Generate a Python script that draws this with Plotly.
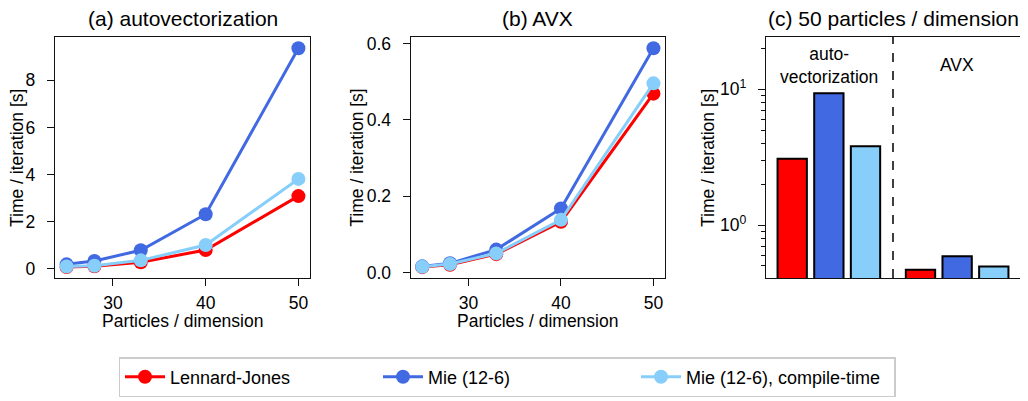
import plotly.graph_objects as go

# ---------------- data ----------------
particles = [25, 28, 33, 40, 50]

series_names = ["Lennard-Jones", "Mie (12-6)", "Mie (12-6), compile-time"]
series_colors = ["#ff0000", "#4169e1", "#87cefa"]

auto_lj = [0.07, 0.10, 0.27, 0.79, 3.08]
auto_mie = [0.18, 0.32, 0.78, 2.31, 9.36]
auto_mie_ct = [0.09, 0.12, 0.35, 1.00, 3.81]

avx_lj = [0.014, 0.020, 0.048, 0.133, 0.469]
avx_mie = [0.016, 0.024, 0.060, 0.168, 0.588]
avx_mie_ct = [0.015, 0.022, 0.050, 0.138, 0.496]

auto_series = [auto_lj, auto_mie, auto_mie_ct]
avx_series = [avx_lj, avx_mie, avx_mie_ct]

group_labels = ["auto-<br>vectorization", "AVX"]
panel_titles = ["(a) autovectorization", "(b) AVX", "(c) 50 particles / dimension"]
x_title = "Particles / dimension"
y_title = "Time / iteration [s]"

# ---------------- layout helpers ----------------
# the page body has an 8 px margin, so the figure is drawn 8 px in from the corner
OFF = 8
W, H = 1028 - OFF, 401 - OFF
FONT = "Liberation Sans, Arial, sans-serif"
FS = 17.5


def px_x(p):
    return (p - OFF) / W


def px_y(p):
    return 1 - (p - OFF) / H


ydom = [px_y(278), px_y(37)]
xdoms = [[px_x(55), px_x(310)], [px_x(410.7), px_x(665)], [px_x(766), px_x(1020)]]

fig = go.Figure()

# line panels
for pi, data in enumerate([auto_series, avx_series]):
    xa = "x" if pi == 0 else "x2"
    ya = "y" if pi == 0 else "y2"
    for si, vals in enumerate(data):
        fig.add_trace(go.Scatter(
            x=particles, y=vals, mode="lines+markers",
            name=series_names[si],
            line=dict(color=series_colors[si], width=3),
            marker=dict(color=series_colors[si], size=14),
            xaxis=xa, yaxis=ya,
            showlegend=(pi == 0),
        ))

# bar panel: value at 50 particles / dimension
group_offsets = [0, 3.5]
for si in range(3):
    xs = [group_offsets[0] + si, group_offsets[1] + si]
    ys = [auto_series[si][-1], avx_series[si][-1]]
    fig.add_trace(go.Bar(
        x=xs, y=ys, width=0.8,
        marker=dict(color=series_colors[si], line=dict(color="black", width=2)),
        xaxis="x3", yaxis="y3", showlegend=False,
    ))

axis_common = dict(
    showline=True, mirror=True, linecolor="#111", linewidth=1.3,
    ticks="outside", ticklen=7, tickwidth=1.3, tickcolor="#111",
    showgrid=False, zeroline=False, automargin=False,
    tickfont=dict(family=FONT, size=FS, color="black"),
)

fig.update_layout(
    width=W, height=H,
    margin=dict(l=0, r=0, t=0, b=0),
    paper_bgcolor="white", plot_bgcolor="white",
    font=dict(family=FONT, size=FS, color="black"),
    barmode="overlay",
    xaxis=dict(domain=xdoms[0], anchor="y", range=[23.75, 51.25],
               tickvals=[30, 40, 50], ticklabelstandoff=2, **axis_common),
    yaxis=dict(domain=ydom, anchor="x", range=[-0.4, 9.84],
               tickvals=[0, 2, 4, 6, 8], ticklabelstandoff=8, **axis_common),
    xaxis2=dict(domain=xdoms[1], anchor="y2", range=[23.75, 51.25],
                tickvals=[30, 40, 50], ticklabelstandoff=2, **axis_common),
    yaxis2=dict(domain=ydom, anchor="x2", range=[-0.0145, 0.6175],
                tickvals=[0, 0.2, 0.4, 0.6], tickformat=".1f",
                ticklabelstandoff=8, **axis_common),
    xaxis3=dict(domain=xdoms[2], anchor="y3", range=[-0.715, 6.215],
                showticklabels=False,
                **{**axis_common, "ticks": ""}),
    yaxis3=dict(domain=ydom, anchor="x3", type="log", range=[-0.39, 1.385],
                tickvals=[1, 10], ticktext=["10<sup>0</sup>", "10<sup>1</sup>"],
                ticklabelstandoff=8,
                minor=dict(ticks="outside", ticklen=4, tickwidth=1, tickcolor="#111",
                           tickvals=[0.5, 0.6, 0.7, 0.8, 0.9, 2, 3, 4, 5, 6, 7, 8, 9, 20]),
                **axis_common),
    legend=dict(
        orientation="h", x=px_x(507), xanchor="center", y=px_y(357), yanchor="top",
        bordercolor="#cccccc", borderwidth=1.5, bgcolor="white",
        font=dict(family=FONT, size=18, color="black"),
        entrywidth=203, itemwidth=40,
    ),
)

# dashed separator in bar panel
fig.add_shape(type="line", xref="x3", yref="y3 domain",
              x0=2.75, x1=2.75, y0=0, y1=1,
              line=dict(color="black", width=1.5, dash="dash"))

annotations = []
title_centers = [(55 + 310) / 2, (410.7 + 665) / 2, (766 + 1020) / 2]
for t, cx in zip(panel_titles, title_centers):
    annotations.append(dict(text=t, x=px_x(cx), y=px_y(18), xref="paper", yref="paper",
                            xanchor="center", yanchor="middle", showarrow=False,
                            font=dict(family=FONT, size=21, color="black")))
for cx in title_centers[:2]:
    annotations.append(dict(text=x_title, x=px_x(cx), y=px_y(321), xref="paper", yref="paper",
                            xanchor="center", yanchor="middle", showarrow=False,
                            font=dict(family=FONT, size=FS, color="black")))
for yx in [17, 356.7, 708]:
    annotations.append(dict(text=y_title, x=px_x(yx), y=px_y(158), xref="paper", yref="paper",
                            xanchor="center", yanchor="middle", showarrow=False, textangle=-90,
                            font=dict(family=FONT, size=FS, color="black")))
for gl, gx, gy in zip(group_labels, [1, 4.5], [px_y(66), px_y(65)]):
    annotations.append(dict(text=gl, x=gx, y=gy, xref="x3", yref="paper",
                            xanchor="center", yanchor="middle", showarrow=False,
                            font=dict(family=FONT, size=FS, color="black")))
fig.update_layout(annotations=annotations)

fig.write_html("out.html")
